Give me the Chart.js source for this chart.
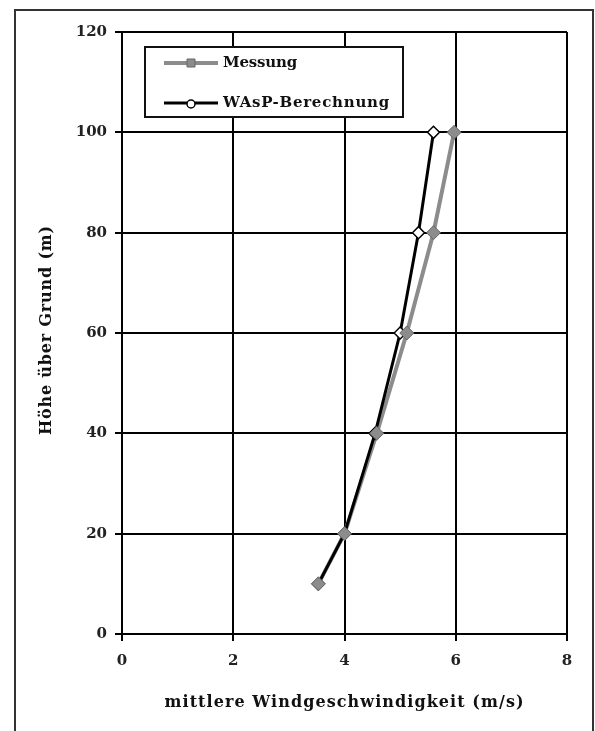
<!DOCTYPE html>
<html>
<head>
<meta charset="utf-8">
<script src="https://cdn.jsdelivr.net/npm/chart.js@4/dist/chart.umd.min.js"></script>
<style>
  html, body { margin: 0; padding: 0; background: #fff; }
  canvas { display: block; }
</style>
</head>
<body>
<canvas id="windChart" width="595" height="731"></canvas>
<script>
// data
const heights = [10, 20, 40, 60, 80, 100];
const messung = [3.53, 4.0, 4.58, 5.12, 5.6, 5.97];
const wasp = [3.53, 4.0, 4.55, 5.0, 5.33, 5.6];
const xTicks = [0, 2, 4, 6, 8];
const yTicks = [0, 20, 40, 60, 80, 100, 120];
const seriesNames = ['Messung', 'WAsP-Berechnung'];
const xTitle = 'mittlere Windgeschwindigkeit (m/s)';
const yTitle = 'Höhe über Grund (m)';

const SERIF = "'DejaVu Serif', 'Liberation Serif', serif";
const GREY = '#8c8c8c';

function toPoints(xs) {
    return heights.map(function (h, i) { return { x: xs[i], y: h }; });
}

// draws text stretched to a target width with letter spacing
function drawSpaced(ctx, text, x, y, width, align) {
    ctx.letterSpacing = '0px';
    var w0 = ctx.measureText(text).width;
    var ls = (width - w0) / text.length;
    ctx.letterSpacing = ls.toFixed(2) + 'px';
    ctx.textAlign = 'left';
    var startX = align === 'center' ? x - width / 2 : x;
    ctx.fillText(text, startX, y);
    ctx.letterSpacing = '0px';
}

const framePlugin = {
    id: 'frame',
    beforeDraw: function (chart) {
        const ctx = chart.ctx;
        ctx.save();
        ctx.fillStyle = '#fff';
        ctx.fillRect(0, 0, chart.width, chart.height);
        ctx.strokeStyle = '#333';
        ctx.lineWidth = 2;
        ctx.strokeRect(15, 10, 578, 740);
        ctx.restore();
    }
};

const titlesPlugin = {
    id: 'titles',
    afterDraw: function (chart) {
        const ctx = chart.ctx;
        const area = chart.chartArea;
        ctx.save();
        ctx.fillStyle = '#111';
        ctx.font = 'bold 16px ' + SERIF;
        ctx.textBaseline = 'middle';
        drawSpaced(ctx, xTitle, (area.left + area.right) / 2, 703, 360, 'center');
        ctx.translate(47, 330);
        ctx.rotate(-Math.PI / 2);
        drawSpaced(ctx, yTitle, 0, 0, 210, 'center');
        ctx.restore();
    }
};

// legend drawn as a framed box inside the plot area
const legendBoxPlugin = {
    id: 'legendBox',
    afterDraw: function (chart) {
        const ctx = chart.ctx;
        const ds = chart.data.datasets;
        const rows = [
            { label: seriesNames[0], line: ds[2], mark: ds[0], shape: 'square', y: 63, w: 74 },
            { label: seriesNames[1], line: ds[1], mark: ds[1], shape: 'circle', y: 103, w: 167 }
        ];
        ctx.save();
        ctx.fillStyle = '#fff';
        ctx.fillRect(145, 47, 258, 70);
        ctx.strokeStyle = '#111';
        ctx.lineWidth = 2;
        ctx.strokeRect(145, 47, 258, 70);
        rows.forEach(function (r) {
            ctx.strokeStyle = r.line.borderColor;
            ctx.lineWidth = r.line.borderWidth;
            ctx.beginPath();
            ctx.moveTo(164, r.y);
            ctx.lineTo(218, r.y);
            ctx.stroke();
            ctx.fillStyle = r.mark.pointBackgroundColor;
            ctx.strokeStyle = r.mark.pointBorderColor;
            ctx.lineWidth = r.mark.pointBorderWidth;
            ctx.beginPath();
            if (r.shape === 'circle') {
                ctx.arc(191, r.y + 1, 4, 0, Math.PI * 2);
            } else {
                ctx.rect(187, r.y - 4, 8, 8);
            }
            ctx.fill();
            ctx.stroke();
            ctx.fillStyle = '#111';
            ctx.font = 'bold 15px ' + SERIF;
            ctx.textBaseline = 'middle';
            drawSpaced(ctx, r.label, 223, r.y, r.w, 'left');
        });
        ctx.restore();
    }
};

const chart = new Chart(document.getElementById('windChart'), {
    type: 'scatter',
    data: {
        datasets: [
            {
                // grey markers on top
                label: seriesNames[0] + ' points',
                data: toPoints(messung),
                showLine: false,
                pointStyle: 'rectRot',
                pointRadius: 7,
                pointBackgroundColor: GREY,
                pointBorderColor: '#666',
                pointBorderWidth: 1,
                order: 0
            },
            {
                label: seriesNames[1],
                data: toPoints(wasp),
                showLine: true,
                borderColor: '#000',
                borderWidth: 3,
                pointStyle: 'rectRot',
                pointRadius: 6,
                pointBackgroundColor: '#fff',
                pointBorderColor: '#000',
                pointBorderWidth: 1.5,
                order: 1
            },
            {
                label: seriesNames[0],
                data: toPoints(messung),
                showLine: true,
                borderColor: GREY,
                borderWidth: 4,
                pointRadius: 0,
                order: 2
            }
        ]
    },
    options: {
        responsive: false,
        animation: false,
        events: [],
        layout: { padding: { top: 32, right: 28, left: 0, bottom: 0 } },
        plugins: {
            legend: { display: false },
            tooltip: { enabled: false }
        },
        scales: {
            x: {
                type: 'linear',
                min: xTicks[0],
                max: xTicks[xTicks.length - 1],
                afterBuildTicks: function (scale) {
                    scale.ticks = xTicks.map(function (v) { return { value: v }; });
                },
                afterFit: function (scale) { scale.height = 97; },
                grid: { color: '#000', lineWidth: 2, tickLength: 7, drawTicks: true },
                border: { color: '#000', width: 2 },
                ticks: {
                    color: '#222',
                    padding: 11,
                    maxRotation: 0,
                    font: { family: SERIF, size: 15, weight: 'bold' }
                }
            },
            y: {
                type: 'linear',
                min: yTicks[0],
                max: yTicks[yTicks.length - 1],
                afterBuildTicks: function (scale) {
                    scale.ticks = yTicks.map(function (v) { return { value: v }; });
                },
                afterFit: function (scale) { scale.width = 122; },
                grid: { color: '#000', lineWidth: 2, tickLength: 7, drawTicks: true },
                border: { color: '#000', width: 2 },
                ticks: {
                    color: '#222',
                    padding: 8,
                    font: { family: SERIF, size: 15, weight: 'bold' }
                }
            }
        }
    },
    plugins: [framePlugin, titlesPlugin, legendBoxPlugin]
});
</script>
</body>
</html>
